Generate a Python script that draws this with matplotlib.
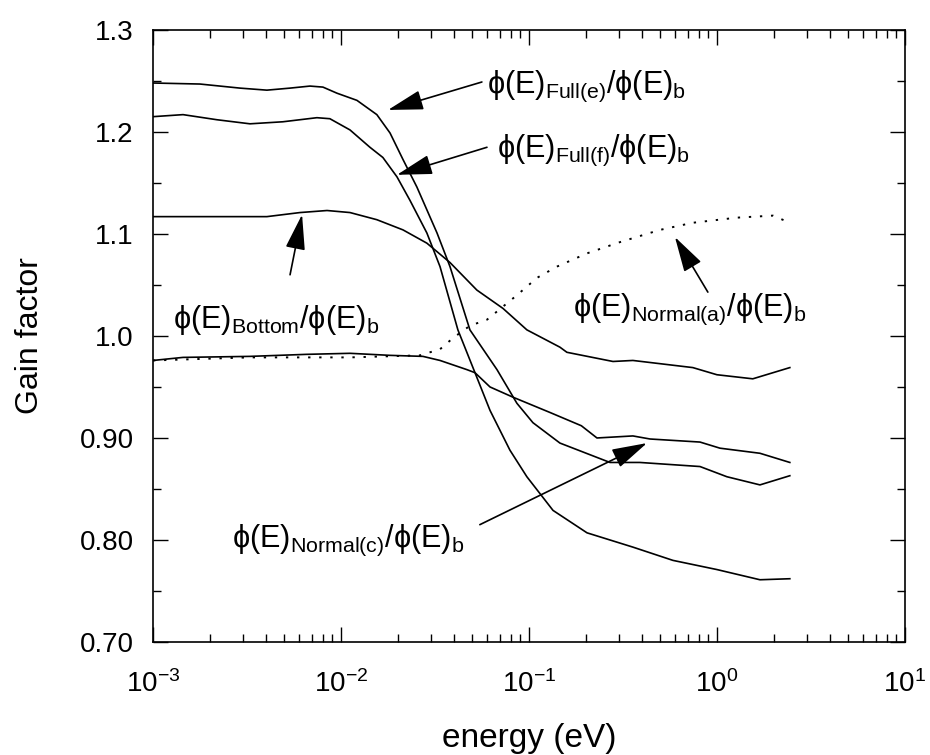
import numpy as np
import matplotlib
matplotlib.use("Agg")
import matplotlib.pyplot as plt
from matplotlib.ticker import FixedLocator, FixedFormatter, LogLocator, NullFormatter

plt.rcParams['font.family'] = ['Liberation Sans', 'DejaVu Sans']
plt.rcParams['mathtext.fontset'] = 'custom'
plt.rcParams['mathtext.rm'] = 'Liberation Sans'
plt.rcParams['mathtext.it'] = 'Liberation Sans:italic'
plt.rcParams['mathtext.bf'] = 'Liberation Sans:bold'
plt.rcParams['mathtext.fallback'] = 'stixsans'

# ---- data (energy in eV, gain factor) ----
E_full_e = [0.001, 0.001778, 0.002904, 0.004036, 0.005358, 0.006839, 0.008017, 0.009528,
            0.01216, 0.01552, 0.01824, 0.02138, 0.02535, 0.03243, 0.03802, 0.04853,
            0.06761, 0.08630, 0.1050, 0.1462, 0.2698, 0.3890, 0.8128, 1.130, 1.694, 2.443]
G_full_e = [1.248, 1.247, 1.243, 1.241, 1.243, 1.245, 1.244, 1.238,
            1.231, 1.217, 1.199, 1.173, 1.146, 1.101, 1.068, 1.006,
            0.967, 0.934, 0.915, 0.895, 0.876, 0.876, 0.872, 0.862, 0.854, 0.863]

E_full_f = [0.001, 0.001445, 0.002188, 0.003281, 0.004909, 0.007447, 0.008730, 0.01117,
            0.01426, 0.01671, 0.01986, 0.02328, 0.02864, 0.03365, 0.04188, 0.05164,
            0.06209, 0.07925, 0.09750, 0.1343, 0.2037, 0.3573, 0.5834, 1.000, 1.694, 2.443]
G_full_f = [1.215, 1.217, 1.212, 1.208, 1.210, 1.214, 1.213, 1.202,
            1.185, 1.175, 1.156, 1.133, 1.101, 1.068, 1.006, 0.964,
            0.927, 0.888, 0.862, 0.829, 0.807, 0.793, 0.780, 0.771, 0.761, 0.762]

E_bottom = [0.001, 0.002188, 0.004036, 0.006053, 0.008433, 0.01117, 0.01552, 0.02138,
            0.02864, 0.03802, 0.05284, 0.07278, 0.09750, 0.1462, 0.1592, 0.2799,
            0.3573, 0.7447, 1.000, 1.552, 2.443]
G_bottom = [1.117, 1.117, 1.117, 1.121, 1.123, 1.121, 1.114, 1.104,
            1.091, 1.072, 1.045, 1.027, 1.006, 0.989, 0.984, 0.975,
            0.976, 0.969, 0.962, 0.958, 0.969]

E_normal_c = [0.001, 0.001445, 0.003281, 0.006592, 0.01117, 0.01824, 0.02729, 0.03365,
              0.04677, 0.05164, 0.06209, 0.08222, 0.1294, 0.1900, 0.2301, 0.3573,
              0.4406, 0.8128, 1.038, 1.694, 2.443]
G_normal_c = [0.976, 0.979, 0.980, 0.982, 0.983, 0.981, 0.980, 0.976,
              0.967, 0.964, 0.950, 0.940, 0.925, 0.912, 0.900, 0.902,
              0.899, 0.896, 0.890, 0.885, 0.876]

E_normal_a = [0.001, 0.003281, 0.01117, 0.02630, 0.03365, 0.03945, 0.04853, 0.05984,
              0.08630, 0.1104, 0.1409, 0.2037, 0.3048, 0.4977, 0.7447, 1.276, 1.986, 2.443]
G_normal_a = [0.976, 0.979, 0.979, 0.981, 0.987, 0.998, 1.010, 1.016,
              1.040, 1.057, 1.068, 1.081, 1.092, 1.104, 1.111, 1.116, 1.118, 1.111]

y_ticks = [0.70, 0.80, 0.90, 1.0, 1.1, 1.2, 1.3]
y_tick_labels = ["0.70", "0.80", "0.90", "1.0", "1.1", "1.2", "1.3"]

fig = plt.figure(figsize=(9.3, 7.55), dpi=100)
ax = fig.add_axes([0.1645, 0.1497, 0.8085, 0.8106])

lw = 1.2
ax.plot(E_full_e, G_full_e, color='black', lw=lw)
ax.plot(E_full_f, G_full_f, color='black', lw=lw)
ax.plot(E_bottom, G_bottom, color='black', lw=lw)
ax.plot(E_normal_c, G_normal_c, color='black', lw=lw)
ax.plot(E_normal_a, G_normal_a, color='black', lw=1.4, linestyle=(0, (1.2, 4.5)))

ax.set_xscale('log')
ax.set_xlim(1e-3, 1e1)
ax.set_ylim(0.70, 1.30)

ax.yaxis.set_major_locator(FixedLocator(y_ticks))
ax.yaxis.set_major_formatter(FixedFormatter(y_tick_labels))
ax.yaxis.set_minor_locator(FixedLocator([0.75, 0.85, 0.95, 1.05, 1.15, 1.25]))
ax.xaxis.set_major_locator(LogLocator(base=10, numticks=10))
ax.xaxis.set_minor_locator(LogLocator(base=10, subs=np.arange(2, 10), numticks=20))
ax.xaxis.set_minor_formatter(NullFormatter())

ax.tick_params(which='both', direction='in', top=True, right=True, width=1.0)
ax.tick_params(which='major', length=11, labelsize=20)
ax.tick_params(axis='y', which='major', pad=14)
ax.tick_params(axis='x', which='major', pad=20)
ax.tick_params(which='minor', length=5.5)
for s in ax.spines.values():
    s.set_linewidth(1.2)

ax.set_xlabel('energy (eV)', fontsize=24)
ax.xaxis.set_label_coords(0.5, -0.132)
ax.set_ylabel('Gain factor', fontsize=23)
ax.yaxis.set_label_coords(-0.144, 0.5)

arrow = dict(arrowstyle='-|>,head_length=1.0,head_width=0.28', mutation_scale=22,
             color='black', lw=1.2, shrinkA=0, shrinkB=0)
tfs = 22

# annotations: text, then arrow from tail to tip
ax.text(0.0598, 1.245, r'ϕ(E)$_{\mathrm{Full(e)}}$/ϕ(E)$_{\mathrm{b}}$', fontsize=tfs, va='center', ha='left')
ax.annotate('', xy=(0.0178, 1.2216), xytext=(0.0562, 1.249), arrowprops=arrow)

ax.text(0.0676, 1.182, r'ϕ(E)$_{\mathrm{Full(f)}}$/ϕ(E)$_{\mathrm{b}}$', fontsize=tfs, va='center', ha='left')
ax.annotate('', xy=(0.01986, 1.158), xytext=(0.0598, 1.185), arrowprops=arrow)

ax.text(0.001277, 1.016, r'ϕ(E)$_{\mathrm{Bottom}}$/ϕ(E)$_{\mathrm{b}}$', fontsize=tfs, va='center', ha='left')
ax.annotate('', xy=(0.00621, 1.119), xytext=(0.00536, 1.060), arrowprops=arrow)

ax.text(0.1714, 1.026, r'ϕ(E)$_{\mathrm{Normal(a)}}$/ϕ(E)$_{\mathrm{b}}$', fontsize=tfs, va='center', ha='left')
ax.annotate('', xy=(0.598, 1.097), xytext=(0.895, 1.043), arrowprops=arrow)

ax.text(0.00263, 0.800, r'ϕ(E)$_{\mathrm{Normal(c)}}$/ϕ(E)$_{\mathrm{b}}$', fontsize=tfs, va='center', ha='left')
ax.annotate('', xy=(0.4246, 0.895), xytext=(0.0548, 0.815), arrowprops=arrow)

fig.savefig('out.png', dpi=100)
